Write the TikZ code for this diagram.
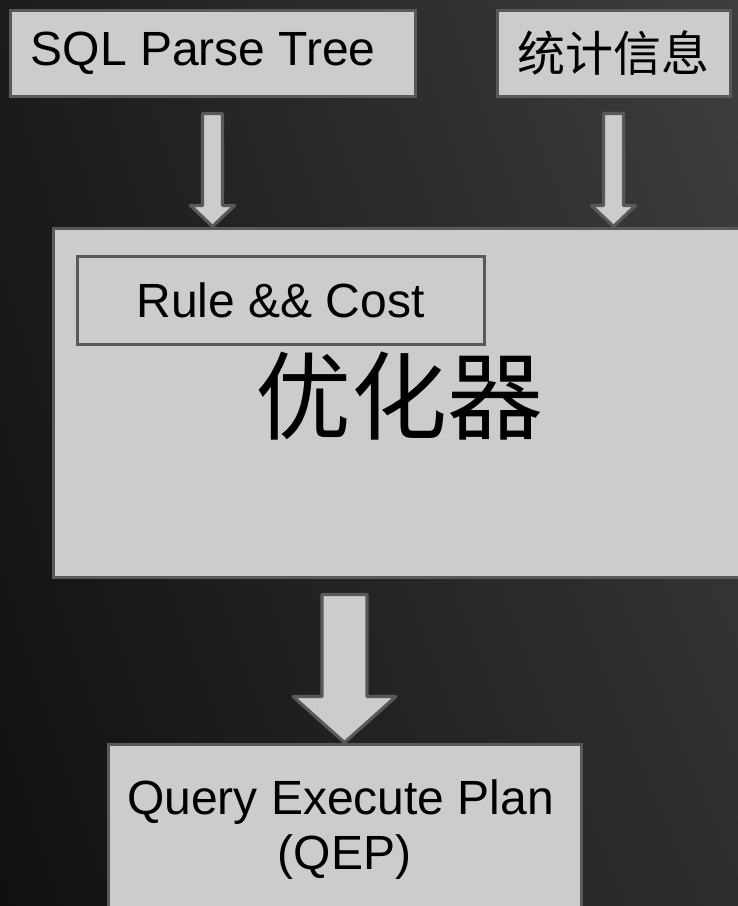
\documentclass[tikz,border=0pt]{standalone}
\usepackage{fontspec}
\setmainfont{Liberation Sans}
\newfontfamily\cjk{Noto Sans CJK SC}
\usetikzlibrary{calc,shadings}

\definecolor{boxgray}{HTML}{CCCCCC}
\definecolor{edgegray}{HTML}{595959}
\definecolor{bgtl}{HTML}{1C1C1C}
\definecolor{bgtr}{HTML}{3E3E3E}
\definecolor{bgbl}{HTML}{101010}
\definecolor{bgbr}{HTML}{2E2E2E}

\newcommand{\blockarrow}[5]{%
  \draw[arrowbox] let \p1=(#1), \p2=(#2) in
    (\x1-#3,\y1) -- (\x1-#3,\y2+#5) -- (\x1-#4,\y2+#5) -- (\x1,\y2)
    -- (\x1+#4,\y2+#5) -- (\x1+#3,\y2+#5) -- (\x1+#3,\y1) -- cycle;}

\begin{document}
\begin{tikzpicture}[x=0.75pt, y=-0.75pt,
  box/.style={draw=edgegray, fill=boxgray, line width=2.25pt, inner sep=0pt,
    font=\fontsize{36}{41.25}\selectfont},
  arrowbox/.style={draw=edgegray, fill=boxgray, line width=2.4pt, line join=round}]
  \useasboundingbox (0,0) rectangle (738,906);
  \clip (0,0) rectangle (738,906);
  \shade[upper left=bgtl, upper right=bgtr, lower left=bgbl, lower right=bgbr] (0,0) rectangle (738,906);
  \node[box, minimum width=303.75pt, minimum height=63.75pt] (sql) at (212.5,53.5) {SQL Parse Tree\hspace*{14pt}};
  \node[box, minimum width=174.75pt, minimum height=63.75pt] (stat) at (613.5,53.5) {\cjk 统计信息};
  \node[box, minimum width=519.75pt, minimum height=261.75pt, text depth=15pt,
    font=\cjk\fontsize{72}{80}\selectfont] (opt) at (399.5,402.5) {优化器};
  \node[box, minimum width=305.25pt, minimum height=66pt] (rule) at (280.5,300) {Rule \&\& Cost};
  \node[box, minimum width=354.75pt, minimum height=129pt, align=center] (qep) at (344.5,830)
    {Query Execute Plan\hspace*{6pt}\\(QEP)};
  \coordinate (sqlout) at ($(sql.south)+(0,16)$);
  \coordinate (statout) at ($(stat.south)+(0,16)$);
  \coordinate (optout) at ($(opt.south -| qep.north)+(0,16)$);
  \blockarrow{sqlout}{opt.north}{7.5pt}{16.5pt}{15.75pt}
  \blockarrow{statout}{opt.north}{7.5pt}{16.5pt}{15.75pt}
  \blockarrow{optout}{qep.north}{16.9pt}{38.6pt}{34.5pt}
\end{tikzpicture}
\end{document}
